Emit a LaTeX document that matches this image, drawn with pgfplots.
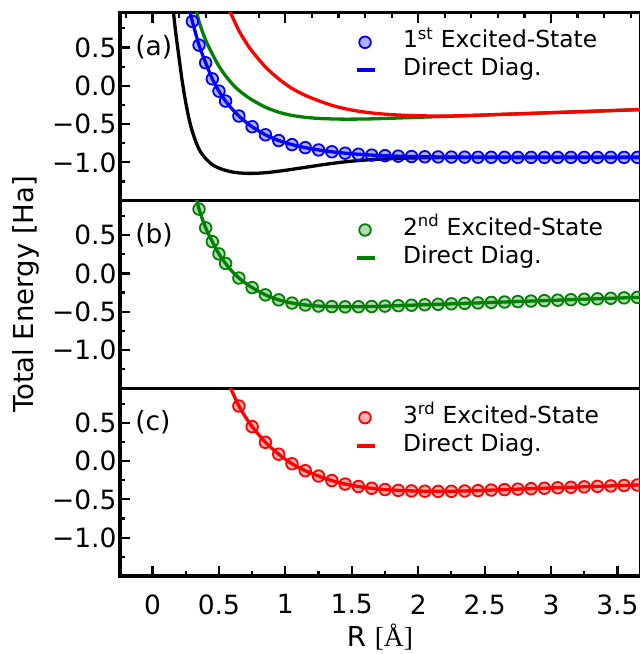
\RequirePackage{fix-cm}
\documentclass[border=0pt]{standalone}
\usepackage[no-math]{fontspec}
\setmainfont{DejaVu Sans}
\newfontfamily\lserif{Liberation Serif}
\usepackage{pgfplots}
\usepackage{pgfplotstable}
\pgfplotsset{compat=1.18}

\newcommand\tickfont{\fontsize{26.5bp}{30bp}\selectfont}
\newcommand\legfont{\fontsize{23.4bp}{27bp}\selectfont}
\newcommand\labfont{\fontsize{27.5bp}{32bp}\selectfont}

% ground state (line only)
\pgfplotstableread{
R E
0.14 1.35
0.16 0.92
0.18 0.62
0.20 0.36
0.22 0.10
0.24 -0.12
0.26 -0.31
0.28 -0.47
0.30 -0.60
0.33 -0.75
0.36 -0.86
0.40 -0.95
0.45 -1.03
0.50 -1.075
0.55 -1.105
0.60 -1.125
0.65 -1.137
0.70 -1.143
0.75 -1.144
0.80 -1.141
0.85 -1.135
0.90 -1.126
1.00 -1.104
1.10 -1.078
1.20 -1.052
1.30 -1.026
1.40 -1.003
1.50 -0.984
1.60 -0.970
1.70 -0.959
1.80 -0.951
1.90 -0.945
2.00 -0.941
2.20 -0.937
2.40 -0.935
2.60 -0.935
3.00 -0.935
3.70 -0.935
}\ground

% 1st excited state
\pgfplotstableread{
R E
0.30 0.84
0.35 0.53
0.40 0.30
0.45 0.09
0.50 -0.07
0.55 -0.20
0.65 -0.395
0.75 -0.535
0.85 -0.64
0.95 -0.715
1.05 -0.768
1.15 -0.808
1.25 -0.838
1.35 -0.862
1.45 -0.880
1.55 -0.894
1.65 -0.905
1.75 -0.913
1.85 -0.919
1.95 -0.924
2.05 -0.927
2.15 -0.929
2.25 -0.931
2.35 -0.932
2.45 -0.933
2.55 -0.934
2.65 -0.934
2.75 -0.935
2.85 -0.935
2.95 -0.935
3.05 -0.935
3.15 -0.935
3.25 -0.935
3.35 -0.935
3.45 -0.935
3.55 -0.935
3.65 -0.935
}\firstpts
\pgfplotstableread{
R E
0.25 1.25
0.28 0.98
0.30 0.84
0.35 0.53
0.40 0.30
0.45 0.09
0.50 -0.07
0.55 -0.20
0.60 -0.305
0.65 -0.395
0.70 -0.470
0.75 -0.535
0.85 -0.64
0.95 -0.715
1.05 -0.768
1.15 -0.808
1.25 -0.838
1.35 -0.862
1.45 -0.880
1.55 -0.894
1.65 -0.905
1.75 -0.913
1.85 -0.919
1.95 -0.924
2.15 -0.929
2.35 -0.932
2.55 -0.934
2.75 -0.935
3.70 -0.935
}\firstline

% 2nd excited state
\pgfplotstableread{
R E
0.35 0.84
0.40 0.595
0.45 0.415
0.50 0.255
0.55 0.13
0.65 -0.06
0.75 -0.185
0.85 -0.28
0.95 -0.345
1.05 -0.387
1.15 -0.412
1.25 -0.426
1.35 -0.433
1.45 -0.436
1.55 -0.435
1.65 -0.432
1.75 -0.427
1.85 -0.421
1.95 -0.415
2.05 -0.409
2.15 -0.403
2.25 -0.397
2.35 -0.391
2.45 -0.385
2.55 -0.379
2.65 -0.373
2.75 -0.367
2.85 -0.361
2.95 -0.355
3.05 -0.349
3.15 -0.343
3.25 -0.337
3.35 -0.331
3.45 -0.325
3.55 -0.319
3.65 -0.313
}\secondpts
\pgfplotstableread{
R E
0.30 1.19
0.35 0.84
0.40 0.595
0.45 0.415
0.50 0.255
0.55 0.13
0.60 0.025
0.65 -0.06
0.70 -0.127
0.75 -0.185
0.85 -0.28
0.95 -0.345
1.05 -0.387
1.15 -0.412
1.25 -0.426
1.35 -0.433
1.45 -0.436
1.55 -0.435
1.65 -0.432
1.75 -0.427
1.85 -0.421
1.95 -0.415
2.15 -0.403
2.35 -0.391
2.55 -0.379
2.75 -0.367
2.95 -0.355
3.15 -0.343
3.35 -0.331
3.55 -0.319
3.70 -0.310
}\secondline

% 3rd excited state
\pgfplotstableread{
R E
0.65 0.72
0.75 0.45
0.85 0.245
0.95 0.09
1.05 -0.035
1.15 -0.125
1.25 -0.195
1.35 -0.255
1.45 -0.300
1.55 -0.332
1.65 -0.355
1.75 -0.371
1.85 -0.382
1.95 -0.389
2.05 -0.393
2.15 -0.395
2.25 -0.394
2.35 -0.390
2.45 -0.385
2.55 -0.378
2.65 -0.372
2.75 -0.366
2.85 -0.360
2.95 -0.354
3.05 -0.348
3.15 -0.342
3.25 -0.336
3.35 -0.330
3.45 -0.324
3.55 -0.318
3.65 -0.312
}\thirdpts
\pgfplotstableread{
R E
0.55 1.08
0.60 0.905
0.65 0.72
0.70 0.575
0.75 0.45
0.85 0.245
0.95 0.09
1.05 -0.035
1.15 -0.125
1.25 -0.195
1.35 -0.255
1.45 -0.300
1.55 -0.332
1.65 -0.355
1.75 -0.371
1.85 -0.382
1.95 -0.389
2.05 -0.393
2.15 -0.395
2.25 -0.394
2.35 -0.390
2.45 -0.385
2.65 -0.372
2.85 -0.360
3.05 -0.348
3.25 -0.336
3.45 -0.324
3.70 -0.309
}\thirdline

\pgfplotsset{
  panel/.style={
    scale only axis, width=520bp, height=187.67bp,
    xmin=-0.245, xmax=3.67, ymin=-1.5, ymax=0.95,
    axis line style={line width=3bp},
    tick style={line width=2.2bp, black},
    major tick length=10bp, minor tick length=5bp,
    tick align=inside,
    ytick={-1,-0.5,0,0.5},
    yticklabels={−1.0,−0.5,0.0,0.5},
    minor ytick={-1.25,-0.75,-0.25,0.25,0.75},
    ytick pos=left,
    tick label style={font=\tickfont},
    xticklabel style={yshift=-15bp},
    legend cell align=left,
    legend style={at={(0.452,0.905)}, anchor=north west, draw=none, fill=none,
      font=\legfont, inner sep=0pt, outer sep=0pt, row sep=5bp, column sep=26bp,
      nodes={inner sep=0pt, text height=17bp, text depth=6bp}},
  },
  ptsmark/.style={only marks, mark=*, mark size=5.8bp,
    mark options={draw=#1, fill=#1, fill opacity=0.3, line width=1.8bp},
    legend image code/.code={\draw[##1] plot coordinates {(8bp,0bp)};}},
  ddline/.style={#1, line width=3.3bp, no marks, smooth,
    legend image code/.code={\draw[##1, line width=4bp] (0bp,0bp) -- (18bp,0bp);}},
}

\begin{document}
\begin{tikzpicture}
\useasboundingbox (0,0) rectangle (640bp,654bp);

% panel (a)
\begin{axis}[panel, at={(120bp,453.33bp)}, anchor=south west,
  xtick pos=right, xtick={0,1,2,3}, xticklabels={},
  minor xtick={-0.2,0.2,0.4,0.6,0.8,1.2,1.4,1.6,1.8,2.2,2.4,2.6,2.8,3.2,3.4,3.6}]
  \addplot[black, line width=3.3bp, smooth, forget plot] table[x=R,y=E] {\ground};
  \addplot[ddline=green!50!black, forget plot] table[x=R,y=E] {\secondline};
  \addplot[ddline=red, forget plot] table[x=R,y=E] {\thirdline};
  \addplot[ptsmark=blue] table[x=R,y=E] {\firstpts};
  \addlegendentry{1\textsuperscript{st} Excited-State}
  \addplot[ddline=blue] table[x=R,y=E] {\firstline};
  \addlegendentry{Direct Diag.}
  \node[anchor=base west, font=\tickfont, inner sep=0pt] at (rel axis cs:0.029,0.773) {(a)};
\end{axis}

% panel (b)
\begin{axis}[panel, at={(120bp,265.67bp)}, anchor=south west,
  xtick=\empty, ylabel={Total Energy [Ha]},
  every axis y label/.style={at={(axis description cs:-0.167,0.5)}, rotate=90, anchor=base, font=\labfont}]
  \addplot[ptsmark=green!50!black] table[x=R,y=E] {\secondpts};
  \addlegendentry{2\textsuperscript{nd} Excited-State}
  \addplot[ddline=green!50!black] table[x=R,y=E] {\secondline};
  \addlegendentry{Direct Diag.}
  \node[anchor=base west, font=\tickfont, inner sep=0pt] at (rel axis cs:0.029,0.773) {(b)};
\end{axis}

% panel (c)
\begin{axis}[panel, at={(120bp,78bp)}, anchor=south west,
  xtick pos=left, xtick={0,0.5,1,1.5,2,2.5,3,3.5},
  xticklabels={0,0.5,1,1.5,2,2.5,3,3.5},
  minor xtick={-0.25,0.25,0.75,1.25,1.75,2.25,2.75,3.25},
  xlabel={R {\lserif [Å]}},
  every axis x label/.style={at={(axis description cs:0.5,-0.378)}, anchor=base, font=\labfont}]
  \addplot[ptsmark=red] table[x=R,y=E] {\thirdpts};
  \addlegendentry{3\textsuperscript{rd} Excited-State}
  \addplot[ddline=red] table[x=R,y=E] {\thirdline};
  \addlegendentry{Direct Diag.}
  \node[anchor=base west, font=\tickfont, inner sep=0pt] at (rel axis cs:0.029,0.773) {(c)};
\end{axis}
\end{tikzpicture}
\end{document}
